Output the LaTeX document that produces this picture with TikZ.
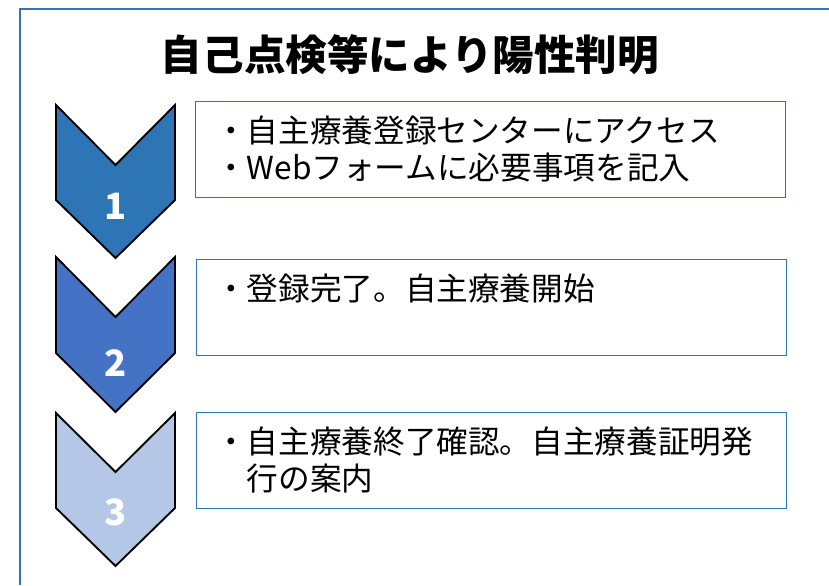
\documentclass[tikz,border=0pt]{standalone}
\usepackage{fontspec}
\setmainfont{Noto Sans CJK JP}
\usetikzlibrary{positioning}

\definecolor{frameblue}{RGB}{46,117,182}
\definecolor{stepone}{RGB}{46,117,182}
\definecolor{steptwo}{RGB}{68,114,196}
\definecolor{stepthree}{RGB}{180,199,231}

\begin{document}
\begin{tikzpicture}[
    x=0.3mm, y=-0.3mm,
    chevron/.style={draw=black, line width=1.6pt, line join=miter},
    stepbox/.style={draw=frameblue, line width=1.2pt, fill=white,
        minimum width=177mm, minimum height=28.7mm, inner sep=0pt},
    steptext/.style={inner sep=0pt, align=left,
        font=\fontsize{27pt}{31pt}\selectfont},
    stepnum/.style={text=white, font=\fontsize{31pt}{31pt}\selectfont\bfseries}
]
\useasboundingbox (0,0) rectangle (829,585);

% Outer frame
\draw[frameblue, line width=1.7pt] (20,585) -- (20,9) -- (829,9);

% Title
\node[font=\fontsize{35.5pt}{36pt}\selectfont\bfseries] (title) at (410,55)
    {自己点検等により陽性判明};

% Step 1
\draw[chevron, fill=stepone]
    (56,105) -- (115.5,165) -- (175,105) -- (175,200)
    -- (115.5,258) -- (56,200) -- cycle;
\node[stepnum] (num1) at (115.5,206) {1};

\node[stepbox, anchor=north west] (box1) at (195,101) {};
\node[steptext, below right=4.5mm and 6mm of box1.north west] (text1)
    {・自主療養登録センターにアクセス\\・Webフォームに必要事項を記入};

% Step 2
\draw[chevron, fill=steptwo]
    (56,257) -- (115.5,317) -- (175,257) -- (175,353)
    -- (115.5,412) -- (56,353) -- cycle;
\node[stepnum] (num2) at (115.5,363) {2};

\node[stepbox, anchor=north west] (box2) at (196,259) {};
\node[steptext, below right=4.5mm and 5.7mm of box2.north west] (text2)
    {・登録完了。自主療養開始};

% Step 3
\draw[chevron, fill=stepthree]
    (56,413) -- (115.5,472) -- (175,413) -- (175,508)
    -- (115.5,566) -- (56,508) -- cycle;
\node[stepnum] (num3) at (115.5,512) {3};

\node[stepbox, anchor=north west] (box3) at (196,412) {};
\node[steptext, below right=4.5mm and 5.7mm of box3.north west] (text3)
    {・自主療養終了確認。自主療養証明発\\\hphantom{・}行の案内};

\end{tikzpicture}
\end{document}
